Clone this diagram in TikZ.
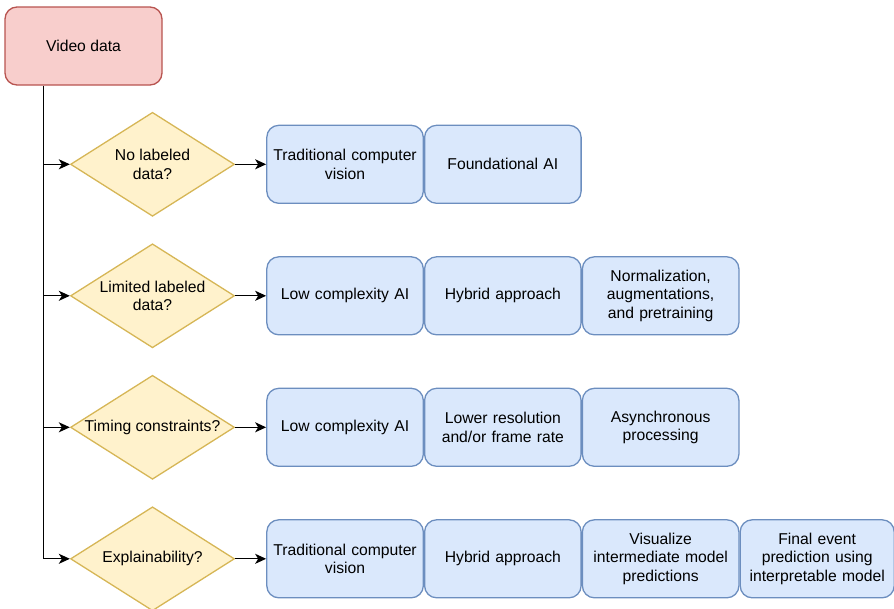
\documentclass[tikz,border=0pt]{standalone}
\usepackage{fontspec}
\setmainfont{Liberation Sans}
\usetikzlibrary{shapes.geometric,arrows.meta,positioning}
\definecolor{sourcefill}{RGB}{248,206,204}
\definecolor{sourcedraw}{RGB}{184,84,80}
\definecolor{questionfill}{RGB}{255,242,204}
\definecolor{questiondraw}{RGB}{214,182,86}
\definecolor{methodfill}{RGB}{218,232,252}
\definecolor{methoddraw}{RGB}{108,142,191}

\begin{document}
\begin{tikzpicture}[
    x=1pt, y=-1pt,
    font=\fontsize{15.7}{18.3}\selectfont,
    source/.style={rectangle, rounded corners=12pt, minimum width=157pt, minimum height=78pt, align=center, draw=sourcedraw, fill=sourcefill, line width=1.3pt},
    question/.style={diamond, aspect=1.6, inner sep=0pt, minimum width=164pt, minimum height=104pt, align=center, draw=questiondraw, fill=questionfill, line width=1.3pt},
    method/.style={rectangle, rounded corners=12pt, minimum width=156.5pt, minimum height=78pt, inner sep=2pt, text width=150pt, align=center, draw=methoddraw, fill=methodfill, line width=1.3pt},
    line/.style={line width=1.3pt, black},
    arrow/.style={line, -{Stealth[length=11pt,width=10pt,inset=3pt]}}
]
\clip (0,0) rectangle (894,608);

\node[source] (video) at (83.5,46) {Video data};
\coordinate (trunk) at (43.7,0);

% questions
\node[question] (nolabel) at (152.5,164.3) {No labeled\\data?};
\node[question] (limited) at (152.5,295.8) {Limited labeled\\data?};
\node[question] (timing) at (152.5,427.3) {Timing constraints?};
\node[question] (explain) at (152.5,558.8) {Explainability?};

% answers
\node[method, right=31pt of nolabel] (nolabel-cv) {Traditional computer\\vision};
\node[method, right=0pt of nolabel-cv] (nolabel-fm) {Foundational AI};

\node[method, right=31pt of limited] (limited-low) {Low complexity AI};
\node[method, right=0pt of limited-low] (limited-hyb) {Hybrid approach};
\node[method, right=0pt of limited-hyb] (limited-norm) {Normalization,\\augmentations,\\and pretraining};

\node[method, right=31pt of timing] (timing-low) {Low complexity AI};
\node[method, right=0pt of timing-low] (timing-res) {Lower resolution\\and/or frame rate};
\node[method, right=0pt of timing-res] (timing-async) {Asynchronous\\processing};

\node[method, right=31pt of explain] (explain-cv) {Traditional computer\\vision};
\node[method, right=0pt of explain-cv] (explain-hyb) {Hybrid approach};
\node[method, right=0pt of explain-hyb] (explain-vis) {Visualize\\intermediate model\\predictions};
\node[method, right=0pt of explain-vis, minimum width=152pt] (explain-final) {Final event\\prediction using\\interpretable model};

% connectors
\draw[arrow] (video.south -| trunk) |- (explain.west);
\draw[arrow] (nolabel.west -| trunk) -- (nolabel.west);
\draw[arrow] (limited.west -| trunk) -- (limited.west);
\draw[arrow] (timing.west -| trunk) -- (timing.west);

\draw[arrow] (nolabel) -- (nolabel-cv);
\draw[arrow] (limited) -- (limited-low);
\draw[arrow] (timing) -- (timing-low);
\draw[arrow] (explain) -- (explain-cv);

\end{tikzpicture}
\end{document}
